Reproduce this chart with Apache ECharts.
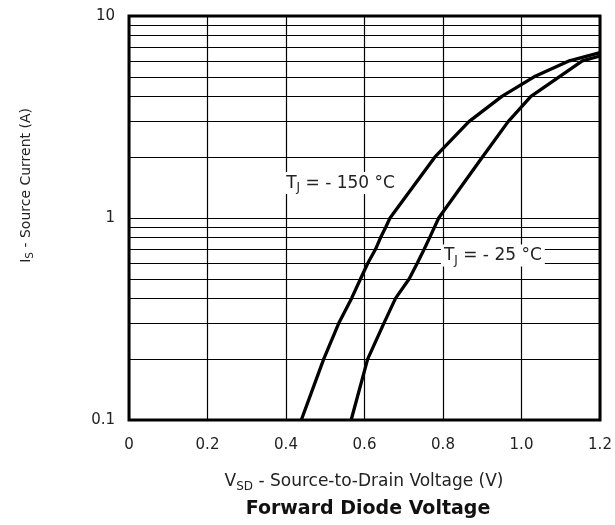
<!DOCTYPE html>
<html><head><meta charset="utf-8">
<script src="https://cdn.jsdelivr.net/npm/echarts@6/dist/echarts.min.js"></script>
<style>html,body{margin:0;padding:0;background:#fff}#c{width:615px;height:525px}</style>
</head><body><div id="c"></div>
<script>
// data
const v150 = [0.439, 0.496, 0.534, 0.567, 0.590, 0.609, 0.628, 0.641, 0.654, 0.665, 0.779, 0.866, 0.950, 1.032, 1.122, 1.200];
const i150 = [0.1,   0.2,   0.3,   0.4,   0.5,   0.6,   0.7,   0.8,   0.9,   1.0,   2.0,   3.0,   4.0,   5.0,   6.0,   6.58];
const v25  = [0.566, 0.608, 0.649, 0.679, 0.714, 0.735, 0.752, 0.766, 0.789, 0.900, 0.966, 1.024, 1.096, 1.155, 1.200];
const i25  = [0.1,   0.2,   0.3,   0.4,   0.5,   0.6,   0.7,   0.8,   1.0,   2.0,   3.0,   4.0,   5.0,   6.0,   6.34];
const xTicks = [0, 0.2, 0.4, 0.6, 0.8, 1.0, 1.2];
const yTicks = [0.1, 1, 10];
const minorY = [0.2,0.3,0.4,0.5,0.6,0.7,0.8,0.9,2,3,4,5,6,7,8,9];

const F = '"DejaVu Sans", "Liberation Sans", Arial, sans-serif';
const chart = echarts.init(document.getElementById('c'), null, {renderer:'canvas'});
function richSub(size, subSize, drop, colorKey) {
  const c = {};
  c[colorKey] = '#222';
  return {
    t: Object.assign({fontSize: size, fontFamily: F}, c),
    s: Object.assign({fontSize: subSize, fontFamily: F, padding: [drop, 0, 0, 0]}, c)
  };
}
const lab = (t) => ({
  formatter: '{t|T}{s|J}{t| = - ' + t + ' °C}',
  rich: richSub(17, 12, 9, 'color'),
  backgroundColor: '#fff', padding: [1, 3, 0, 3], position: 'inside'
});
chart.setOption({
  animation: false,
  grid: {left: 129, right: 15, top: 16, bottom: 105, show: true, borderColor: '#000', borderWidth: 3, z: 5},
  xAxis: {
    type: 'value', min: 0, max: 1.2, interval: 0.2,
    axisLine: {show: false}, axisTick: {show: false},
    axisLabel: {margin: 18, fontSize: 15, fontFamily: F, color: '#222',
      formatter: v => (xTicks.some(t => Math.abs(t - v) < 1e-9) ? (v === 0 ? '0' : v.toFixed(1)) : '')},
    splitLine: {show: true, lineStyle: {color: '#000', width: 1.2}}
  },
  yAxis: {
    type: 'log', logBase: 10, min: 0.1, max: 10,
    axisLine: {show: false}, axisTick: {show: false},
    axisLabel: {margin: 14, fontSize: 15, fontFamily: F, color: '#222',
      formatter: v => (yTicks.some(t => Math.abs(t - v) < 1e-9) ? String(v) : '')},
    splitLine: {show: true, lineStyle: {color: '#000', width: 1.2}}
  },
  series: [
    {
      type: 'line', data: v150.map((v, k) => [v, i150[k]]), symbol: 'none', smooth: false,
      lineStyle: {color: '#000', width: 3.3}, z: 3,
      markLine: {silent: true, symbol: ['none', 'none'], label: {show: false},
        lineStyle: {color: '#000', width: 1.2, type: 'solid'},
        data: minorY.map(v => ({yAxis: v}))}
    },
    {
      type: 'line', data: v25.map((v, k) => [v, i25[k]]), symbol: 'none', smooth: false,
      lineStyle: {color: '#000', width: 3.3}, z: 3
    },
    {
      type: 'scatter', data: [], z: 10,
      markPoint: {silent: true, symbol: 'rect', symbolSize: 1, itemStyle: {color: 'rgba(0,0,0,0)'},
        data: [
          {coord: [0.539, 1.49], label: lab('150')},
          {coord: [0.927, 0.652], label: lab('25')}
        ]}
    }
  ],
  graphic: [
    {type: 'text', left: 19, top: 108, rotation: Math.PI / 2, z: 20,
     style: {text: '{t|I}{s|S}{t| - Source Current (A)}', rich: richSub(14, 10.5, 8, 'fill')}},
    {type: 'text', x: 364, y: 482, z: 20,
     style: {text: '{t|V}{s|SD}{t| - Source-to-Drain Voltage (V)}', align: 'center', verticalAlign: 'middle',
       rich: richSub(17, 12, 9, 'fill')}},
    {type: 'text', x: 368, y: 509, z: 20,
     style: {text: 'Forward Diode Voltage', align: 'center', verticalAlign: 'middle',
       fontSize: 19, fontWeight: 'bold', fontFamily: F, fill: '#111'}}
  ]
});
</script></body></html>
